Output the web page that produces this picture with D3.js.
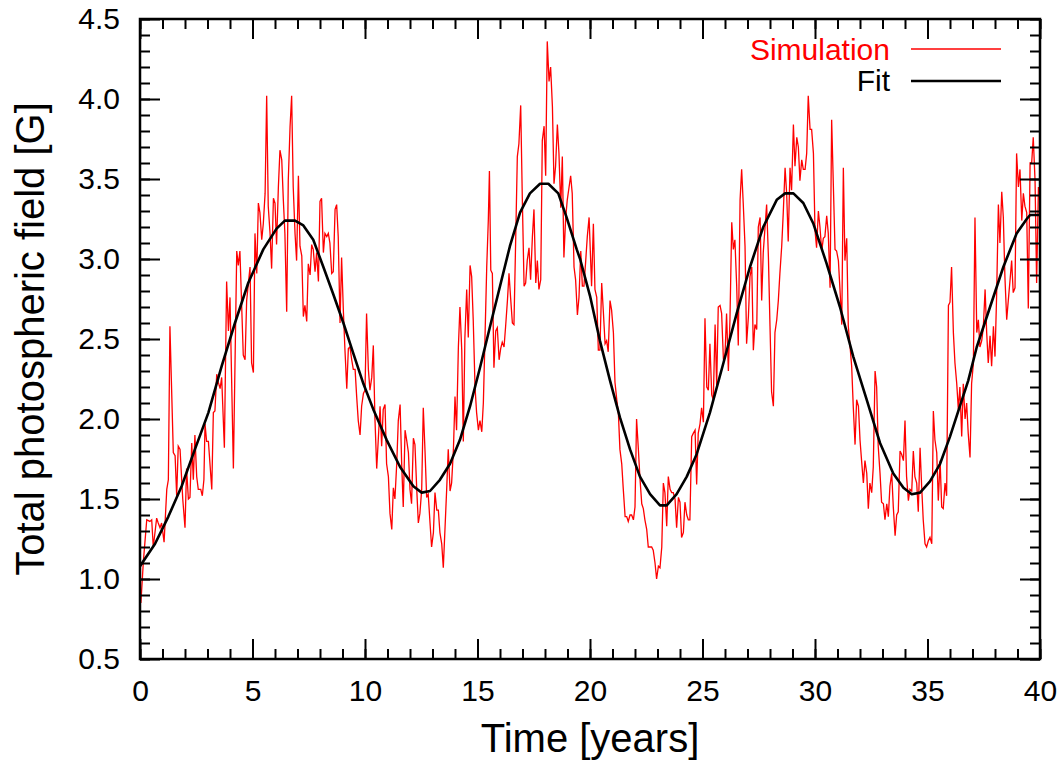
<!DOCTYPE html>
<html>
<head>
<meta charset="utf-8">
<script src="https://cdn.jsdelivr.net/npm/d3@7"></script>
<style>
  html, body { margin: 0; padding: 0; background: #fff; }
  svg { display: block; font-family: "Liberation Sans", Arial, Helvetica, sans-serif; }
</style>
</head>
<body>
<svg id="chart" width="1061" height="765"></svg>
<script>
// Simulated total photospheric field (time in years, field in gauss)
const simTime = [
  0.04,0.15,0.30,0.44,0.52,0.59,0.74,0.81,0.89,0.96,1.07,1.19,1.26,1.33,1.48,1.56,1.63,1.70,1.78,1.90,
  2.00,2.07,2.15,2.22,2.30,2.37,2.44,2.52,2.59,2.70,2.77,2.84,2.89,2.96,3.04,3.19,3.26,3.33,3.41,3.48,
  3.56,3.63,3.75,3.85,3.93,4.00,4.15,4.30,4.37,4.44,4.59,4.67,4.74,4.89,4.96,5.04,5.11,5.19,5.26,5.33,
  5.41,5.48,5.56,5.63,5.70,5.78,5.85,5.93,6.00,6.07,6.15,6.22,6.30,6.37,6.44,6.52,6.59,6.67,6.74,6.81,
  6.89,6.96,7.04,7.11,7.19,7.26,7.33,7.41,7.48,7.56,7.63,7.70,7.78,7.85,7.93,8.00,8.07,8.15,8.22,8.30,
  8.37,8.44,8.52,8.59,8.67,8.74,8.81,8.89,8.96,9.04,9.11,9.19,9.26,9.33,9.41,9.48,9.56,9.63,9.70,9.78,
  9.85,9.93,10.00,10.07,10.15,10.22,10.30,10.37,10.44,10.52,10.59,10.67,10.74,10.81,10.89,10.96,11.04,11.11,11.19,11.26,
  11.33,11.41,11.48,11.56,11.63,11.70,11.78,11.85,11.93,12.00,12.07,12.15,12.22,12.30,12.37,12.44,12.52,12.59,12.67,12.74,
  12.81,12.89,12.96,13.04,13.11,13.19,13.26,13.33,13.41,13.48,13.56,13.63,13.70,13.78,13.85,13.93,14.00,14.07,14.15,14.22,
  14.30,14.37,14.44,14.52,14.59,14.67,14.74,14.81,14.89,14.96,15.04,15.11,15.19,15.26,15.33,15.41,15.48,15.53,15.59,15.66,
  15.73,15.81,15.88,15.96,16.03,16.10,16.18,16.25,16.33,16.40,16.47,16.55,16.62,16.70,16.77,16.84,16.92,16.99,17.07,17.14,
  17.21,17.29,17.36,17.44,17.51,17.59,17.66,17.73,17.81,17.88,17.96,18.03,18.10,18.18,18.25,18.33,18.40,18.47,18.55,18.62,
  18.70,18.77,18.84,18.92,18.99,19.07,19.14,19.21,19.29,19.36,19.44,19.51,19.59,19.66,19.73,19.81,19.88,19.96,20.07,20.15,
  20.22,20.30,20.37,20.44,20.52,20.59,20.67,20.74,20.81,20.89,20.96,21.04,21.11,21.19,21.26,21.33,21.41,21.48,21.56,21.63,
  21.70,21.78,21.85,21.93,22.00,22.07,22.15,22.22,22.30,22.37,22.44,22.52,22.59,22.67,22.74,22.81,22.89,22.96,23.04,23.11,
  23.19,23.26,23.33,23.41,23.48,23.56,23.63,23.70,23.78,23.85,23.93,24.00,24.07,24.15,24.22,24.30,24.37,24.44,24.52,24.59,
  24.67,24.74,24.81,24.89,24.96,25.04,25.11,25.19,25.26,25.33,25.41,25.48,25.56,25.63,25.70,25.78,25.85,25.93,26.00,26.07,
  26.15,26.22,26.30,26.37,26.44,26.52,26.59,26.67,26.74,26.81,26.89,26.96,27.04,27.11,27.19,27.26,27.33,27.41,27.48,27.56,
  27.63,27.70,27.78,27.85,27.93,28.00,28.07,28.15,28.22,28.30,28.37,28.44,28.52,28.59,28.67,28.74,28.81,28.89,28.96,29.04,
  29.11,29.19,29.26,29.33,29.41,29.48,29.56,29.63,29.70,29.78,29.85,29.93,30.00,30.07,30.15,30.22,30.30,30.37,30.44,30.52,
  30.59,30.67,30.74,30.89,30.96,31.04,31.11,31.19,31.26,31.33,31.41,31.48,31.56,31.63,31.70,31.78,31.85,31.93,32.00,32.07,
  32.15,32.22,32.30,32.37,32.44,32.52,32.59,32.67,32.74,32.81,32.89,32.96,33.04,33.11,33.19,33.26,33.33,33.41,33.48,33.56,
  33.63,33.70,33.78,33.85,33.93,34.00,34.07,34.15,34.22,34.30,34.37,34.44,34.52,34.59,34.67,34.74,34.81,34.89,34.96,35.04,
  35.11,35.19,35.26,35.33,35.41,35.48,35.56,35.63,35.70,35.78,35.85,35.93,36.00,36.07,36.15,36.22,36.30,36.37,36.44,36.52,
  36.59,36.67,36.74,36.81,36.89,36.96,37.04,37.11,37.19,37.26,37.33,37.41,37.48,37.56,37.63,37.70,37.78,37.85,37.93,38.00,
  38.07,38.15,38.22,38.30,38.37,38.44,38.52,38.59,38.67,38.74,38.81,38.89,38.96,39.04,39.11,39.19,39.26,39.33,39.41,39.48,
  39.56,39.63,39.70,39.78,39.85,39.93
];
const simField = [
  0.85,1.11,1.37,1.36,1.37,1.20,1.38,1.35,1.32,1.35,1.23,1.56,1.62,2.58,1.79,1.77,1.52,1.83,1.81,1.50,
  1.32,1.69,1.50,1.51,1.85,1.62,1.90,1.64,1.56,1.56,1.52,1.62,1.97,1.86,1.86,1.56,2.04,2.05,2.28,2.23,
  2.19,2.26,1.82,2.86,2.55,2.76,1.69,3.05,2.96,3.05,2.40,2.37,2.74,2.95,2.35,2.29,3.16,2.91,3.35,3.29,
  3.12,3.22,3.41,4.02,3.33,3.16,2.94,3.38,3.35,3.09,3.45,3.68,3.62,3.37,3.16,2.67,3.49,3.83,4.02,3.45,
  3.16,2.99,3.52,3.08,3.02,2.64,2.71,2.61,2.97,2.90,3.09,3.06,2.92,3.04,2.86,3.36,3.38,3.04,3.16,3.14,
  3.16,3.10,2.91,2.92,3.31,3.34,3.14,2.60,3.01,2.67,2.43,2.19,2.44,2.45,2.37,2.31,2.31,2.14,1.99,1.90,
  2.08,2.16,2.18,2.66,2.31,2.18,2.26,2.46,2.01,1.69,1.87,2.08,1.83,2.06,2.09,1.72,1.64,1.41,1.31,1.57,
  1.50,1.72,1.99,2.09,1.72,1.45,1.93,1.87,1.79,1.56,1.47,1.88,1.84,1.56,1.35,1.41,1.56,2.07,1.79,1.51,
  1.53,1.35,1.20,1.29,1.54,1.43,1.43,1.29,1.22,1.07,1.33,1.56,1.81,1.55,1.60,1.81,2.14,1.93,2.45,2.70,
  2.43,1.86,2.51,2.81,2.51,2.96,2.89,2.62,2.20,2.04,1.93,1.99,1.92,2.10,2.49,2.95,3.24,3.55,2.93,2.91,
  2.32,2.55,2.57,2.37,2.44,2.48,2.45,2.58,2.74,2.91,2.76,2.60,2.59,3.14,3.64,3.72,3.96,3.39,2.83,2.85,
  2.99,3.07,2.87,3.14,3.31,2.85,2.99,2.81,2.87,3.74,3.83,3.52,4.36,4.11,4.20,3.95,3.47,3.58,3.84,3.66,
  3.32,3.64,3.01,3.26,3.37,3.45,3.52,3.41,2.95,2.87,2.65,2.76,3.05,2.83,2.83,2.99,3.14,3.26,2.83,3.22,
  2.81,2.76,2.43,2.43,2.85,2.68,2.47,2.49,2.42,2.74,2.68,2.54,2.23,2.12,2.04,1.81,1.72,1.56,1.39,1.39,
  1.36,1.40,1.40,1.37,1.45,2.00,1.81,1.63,1.47,1.44,1.37,1.31,1.20,1.20,1.20,1.18,1.10,1.00,1.08,1.07,
  1.20,1.60,1.54,1.33,1.64,1.56,1.54,1.54,1.50,1.32,1.51,1.48,1.26,1.29,1.48,1.40,1.37,1.37,1.89,1.91,
  1.93,1.59,1.91,1.97,2.07,1.98,2.63,2.20,2.18,2.47,2.15,2.12,2.59,2.21,2.70,2.71,2.66,2.37,2.40,2.66,
  2.30,2.62,3.23,3.06,3.12,2.83,2.46,3.37,3.56,3.35,3.08,2.47,2.64,2.89,2.95,2.43,2.59,2.56,3.20,3.26,
  2.74,3.04,3.20,3.34,3.01,2.58,2.17,2.08,2.54,2.62,2.74,2.91,3.08,3.29,3.57,3.41,3.11,3.57,3.43,3.84,
  3.58,3.76,3.70,3.49,3.62,3.56,3.56,3.66,4.02,3.81,3.81,3.66,3.18,3.07,3.30,3.20,3.05,3.13,3.14,3.27,
  3.16,2.82,3.87,3.06,3.05,2.99,2.81,2.59,3.57,2.99,3.13,2.58,2.45,2.33,2.08,1.84,2.12,2.08,1.87,1.74,
  1.60,1.74,1.66,1.44,1.60,1.54,1.70,2.30,2.20,1.83,1.66,1.48,1.47,1.37,1.47,1.39,1.58,1.66,1.45,1.27,
  1.40,1.42,1.80,1.78,1.74,1.99,1.64,1.49,1.56,1.55,1.80,1.64,1.60,1.42,1.82,1.58,1.37,1.22,1.20,1.24,
  1.26,1.22,2.05,1.87,1.79,1.49,1.74,1.45,1.44,1.60,1.52,2.71,2.73,2.95,2.54,2.35,2.22,2.06,2.20,1.89,
  2.22,2.00,2.10,1.91,1.76,2.22,2.35,3.26,2.54,2.62,2.45,2.49,2.57,2.81,2.54,2.35,2.52,2.33,2.58,2.39,
  2.76,3.34,3.10,3.42,3.26,2.89,2.62,2.74,2.87,2.99,2.79,2.82,3.66,3.45,3.56,3.24,3.41,3.33,3.29,2.69,
  3.60,3.60,3.76,3.49,2.85,3.45
];

// Fitted cycle curve
const fitTime = [
  0.00,0.67,1.26,1.85,2.44,3.04,3.63,4.22,4.81,5.48,6.07,6.44,6.89,7.26,7.70,8.15,8.59,9.04,9.48,9.93,
  10.37,10.96,11.56,12.15,12.52,12.89,13.33,13.78,14.22,14.67,15.11,15.56,16.00,16.44,16.89,17.33,17.78,18.15,18.59,18.96,
  19.41,19.56,20.00,20.44,20.89,21.33,21.78,22.22,22.67,23.11,23.41,23.85,24.30,24.74,25.33,25.93,26.52,27.11,27.70,28.30,
  28.67,29.04,29.48,29.93,30.52,31.11,31.70,32.30,32.89,33.48,33.93,34.30,34.67,35.11,35.56,36.00,36.44,36.81,37.19,37.78,
  38.37,38.96,39.41,39.56,40.00
];
const fitField = [
  1.08,1.22,1.39,1.58,1.81,2.04,2.33,2.60,2.85,3.06,3.19,3.24,3.24,3.21,3.12,2.95,2.78,2.60,2.41,2.22,
  2.06,1.87,1.70,1.58,1.54,1.55,1.62,1.72,1.87,2.08,2.32,2.58,2.83,3.08,3.29,3.41,3.47,3.47,3.41,3.26,
  3.06,3.00,2.77,2.49,2.24,2.01,1.81,1.64,1.53,1.46,1.46,1.53,1.64,1.78,2.04,2.35,2.66,2.95,3.20,3.37,
  3.41,3.41,3.35,3.22,2.97,2.70,2.39,2.12,1.85,1.66,1.57,1.53,1.54,1.61,1.72,1.89,2.08,2.24,2.45,2.70,
  2.95,3.16,3.25,3.275,3.275
];

// Axis ticks
const xMajorTicks = [0, 5, 10, 15, 20, 25, 30, 35, 40];
const xMinorTicks = d3.range(0, 41, 1);
const yMajorTicks = [0.5, 1.0, 1.5, 2.0, 2.5, 3.0, 3.5, 4.0, 4.5];
const yMinorTicks = d3.range(5, 46, 1).map(d => d / 10);

const seriesNames = ["Simulation", "Fit"];
const seriesColors = ["#ff0000", "#000000"];

const svg = d3.select("#chart");
const plot = { left: 140, right: 1040, top: 19, bottom: 659 };

const x = d3.scaleLinear().domain([0, 40]).range([plot.left, plot.right]);
const y = d3.scaleLinear().domain([0.5, 4.5]).range([plot.bottom, plot.top]);

svg.append("defs").append("clipPath").attr("id", "plotClip")
  .append("rect")
  .attr("x", plot.left).attr("y", plot.top)
  .attr("width", plot.right - plot.left).attr("height", plot.bottom - plot.top);

const lines = svg.append("g").attr("clip-path", "url(#plotClip)");

const simData = d3.zip(simTime, simField);
const fitData = d3.zip(fitTime, fitField);

const line = d3.line().x(d => x(d[0])).y(d => y(d[1]));

lines.append("path")
  .datum(simData)
  .attr("d", line)
  .attr("fill", "none")
  .attr("stroke", seriesColors[0])
  .attr("stroke-width", 1.3)
  .attr("stroke-linejoin", "miter");

lines.append("path")
  .datum(fitData)
  .attr("d", line)
  .attr("fill", "none")
  .attr("stroke", seriesColors[1])
  .attr("stroke-width", 2.6)
  .attr("stroke-linejoin", "round");

// Mirrored inward ticks on all four sides
const fmtY = d3.format(".1f");
function styleAxis(g) {
  g.select(".domain").remove();
  g.selectAll(".tick line").attr("stroke", "#000").attr("stroke-width", 2);
  g.selectAll(".tick text").attr("fill", "#000").style("font-size", "30px");
}

// minor ticks
svg.append("g").attr("transform", `translate(0,${plot.bottom})`)
  .call(d3.axisBottom(x).tickValues(xMinorTicks).tickSize(-10).tickFormat(""))
  .call(styleAxis);
svg.append("g").attr("transform", `translate(0,${plot.top})`)
  .call(d3.axisTop(x).tickValues(xMinorTicks).tickSize(-10).tickFormat(""))
  .call(styleAxis);
svg.append("g").attr("transform", `translate(${plot.left},0)`)
  .call(d3.axisLeft(y).tickValues(yMinorTicks).tickSize(-10).tickFormat(""))
  .call(styleAxis);
svg.append("g").attr("transform", `translate(${plot.right},0)`)
  .call(d3.axisRight(y).tickValues(yMinorTicks).tickSize(-10).tickFormat(""))
  .call(styleAxis);

// major ticks with labels
svg.append("g").attr("transform", `translate(0,${plot.bottom})`)
  .call(d3.axisBottom(x).tickValues(xMajorTicks).tickSize(-20).tickPadding(21).tickFormat(d3.format("d")))
  .call(styleAxis);
svg.append("g").attr("transform", `translate(0,${plot.top})`)
  .call(d3.axisTop(x).tickValues(xMajorTicks).tickSize(-20).tickFormat(""))
  .call(styleAxis);
svg.append("g").attr("transform", `translate(${plot.left},0)`)
  .call(d3.axisLeft(y).tickValues(yMajorTicks).tickSize(-20).tickPadding(20).tickFormat(fmtY))
  .call(styleAxis);
svg.append("g").attr("transform", `translate(${plot.right},0)`)
  .call(d3.axisRight(y).tickValues(yMajorTicks).tickSize(-20).tickFormat(""))
  .call(styleAxis);

// frame
svg.append("rect")
  .attr("x", plot.left).attr("y", plot.top)
  .attr("width", plot.right - plot.left).attr("height", plot.bottom - plot.top)
  .attr("fill", "none").attr("stroke", "#000").attr("stroke-width", 2.5);

// axis titles
svg.append("text")
  .attr("x", (plot.left + plot.right) / 2).attr("y", 752)
  .attr("text-anchor", "middle")
  .style("font-size", "40px")
  .text("Time [years]");

svg.append("text")
  .attr("transform", `translate(44,${(plot.top + plot.bottom) / 2}) rotate(-90)`)
  .attr("text-anchor", "middle")
  .style("font-size", "40px")
  .text("Total photospheric field [G]");

// legend
const legend = svg.append("g");
const legendRows = [
  { name: seriesNames[0], color: seriesColors[0], width: 1.3, textY: 60, lineY: 49 },
  { name: seriesNames[1], color: seriesColors[1], width: 2.6, textY: 91, lineY: 81 }
];
legendRows.forEach(r => {
  legend.append("text")
    .attr("x", 890).attr("y", r.textY)
    .attr("text-anchor", "end")
    .attr("fill", r.color)
    .style("font-size", "30px")
    .text(r.name);
  legend.append("line")
    .attr("x1", 911).attr("x2", 1001)
    .attr("y1", r.lineY).attr("y2", r.lineY)
    .attr("stroke", r.color).attr("stroke-width", r.width);
});
</script>
</body>
</html>
